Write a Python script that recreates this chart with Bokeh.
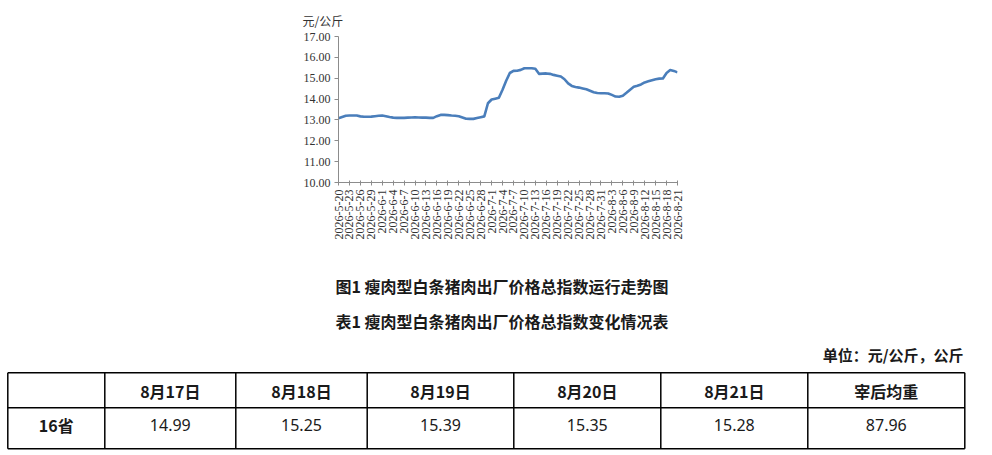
import math
import pandas as pd
from bokeh.plotting import figure
from bokeh.layouts import column
from bokeh.models import Range1d, FixedTicker, ColumnDataSource
from bokeh.core.properties import value
from bokeh.embed import file_html
from bokeh.resources import INLINE

# ---------------- data ----------------
dates = [f"{d.year}-{d.month}-{d.day}" for d in pd.date_range("2026-05-20", "2026-08-21", freq="D")]
price_index = [
    13.08, 13.14, 13.20, 13.21, 13.21, 13.21, 13.17, 13.15, 13.15, 13.16,
    13.18, 13.20, 13.21, 13.18, 13.14, 13.11, 13.10, 13.10, 13.10, 13.11,
    13.12, 13.13, 13.12, 13.11, 13.11, 13.10, 13.10, 13.18, 13.24, 13.24,
    13.23, 13.21, 13.20, 13.18, 13.12, 13.06, 13.05, 13.05, 13.09, 13.13,
    13.17, 13.80, 13.98, 14.02, 14.06, 14.45, 14.88, 15.25, 15.35, 15.36,
    15.40, 15.48, 15.48, 15.48, 15.45, 15.21, 15.22, 15.23, 15.21, 15.16,
    15.12, 15.08, 14.95, 14.75, 14.63, 14.58, 14.55, 14.51, 14.47, 14.40,
    14.33, 14.29, 14.28, 14.28, 14.27, 14.20, 14.12, 14.11, 14.16, 14.30,
    14.45, 14.59, 14.64, 14.70, 14.80, 14.85, 14.90, 14.95, 14.98, 14.99,
    15.25, 15.39, 15.35, 15.28,
]
y_ticks = [10, 11, 12, 13, 14, 15, 16, 17]
y_unit = "元/公斤"
chart_title = "图1 瘦肉型白条猪肉出厂价格总指数运行走势图"
table_title = "表1 瘦肉型白条猪肉出厂价格总指数变化情况表"
unit_note = "单位：元/公斤，公斤"
table_headers = ["", "8月17日", "8月18日", "8月19日", "8月20日", "8月21日", "宰后均重"]
row_label = "16省"
row_values = ["14.99", "15.25", "15.39", "15.35", "15.28", "87.96"]

# ---------------- layout constants ----------------
W = 976
H1 = 262
H2 = 190
CJK = "Noto Sans CJK SC"
SERIF = "Liberation Serif"
FL, FW, FT, FH = 338, 339, 36, 146  # chart frame left / width / top / height

# ---------------- chart ----------------
x_idx = list(range(len(dates)))
p = figure(width=W, height=H1, output_backend="svg", toolbar_location=None,
           x_range=Range1d(0, len(dates) - 1), y_range=Range1d(10, 17),
           min_border_left=FL, min_border_right=W - FL - FW,
           min_border_top=FT, min_border_bottom=H1 - FT - FH)
p.frame_align = False
p.outline_line_color = None
p.grid.grid_line_color = None
p.background_fill_color = "white"
p.border_fill_color = "white"

p.title.text = y_unit
p.title.align = "left"
p.title.offset = -36
p.title.text_font = CJK
p.title.text_font_size = "12px"
p.title.text_font_style = "normal"
p.title.text_color = "#333333"
p.title.standoff = 15

p.line(x_idx, price_index, line_color="#4a7ebb", line_width=2.6, line_join="round")

xa = p.xaxis[0]
xa.ticker = FixedTicker(ticks=x_idx[::3])
xa.major_label_overrides = {i: dates[i] for i in x_idx[::3]}
xa.major_label_orientation = math.pi / 2
xa.major_label_text_font = SERIF
xa.major_label_text_font_size = "12px"
xa.major_label_text_color = "#333333"
xa.axis_line_color = "#8c8c8c"
xa.major_tick_line_color = "#8c8c8c"
xa.major_tick_in = 2
xa.major_tick_out = 3
xa.minor_tick_line_color = None
xa.major_label_standoff = 4

ya = p.yaxis[0]
ya.ticker = FixedTicker(ticks=y_ticks)
ya.major_label_overrides = {t: f"{t:.2f}" for t in y_ticks}
ya.major_label_text_font = SERIF
ya.major_label_text_font_size = "12px"
ya.major_label_text_color = "#333333"
ya.axis_line_color = "#8c8c8c"
ya.major_tick_line_color = "#8c8c8c"
ya.major_tick_in = 0
ya.major_tick_out = 4
ya.minor_tick_line_color = None
ya.major_label_standoff = 4

# ---------------- titles and table ----------------
q = figure(width=W, height=H2, output_backend="svg", toolbar_location=None,
           x_range=Range1d(0, W), y_range=Range1d(H2, 0),
           min_border=0, min_border_left=0, min_border_right=0,
           min_border_top=0, min_border_bottom=0)
q.frame_align = False
q.axis.visible = False
q.grid.grid_line_color = None
q.outline_line_color = None
q.background_fill_color = "white"
q.border_fill_color = "white"

off_x, off_y = 0, H1

q.text(x=[501.5 - off_x, 501.5 - off_x], y=[285 - off_y, 320 - off_y], text=[chart_title, table_title],
       text_font=value(CJK), text_font_size="16px", text_font_style="bold",
       text_color="#1a1a1a", text_align="center", text_baseline="middle")
q.text(x=[963 - off_x], y=[353.5 - off_y], text=[unit_note],
       text_font=value(CJK), text_font_size="15px", text_font_style="bold",
       text_color="#1a1a1a", text_align="right", text_baseline="middle")

col_edges = [7.3, 104.3, 235.3, 366.7, 513.3, 660.3, 807.3, 964.3]
row_edges = [372.3, 407.3, 448.3]
cx = [(a + b) / 2 - off_x for a, b in zip(col_edges[:-1], col_edges[1:])]
r_top, r_mid, r_bot = [r - off_y for r in row_edges]

# borders
q.segment(x0=[col_edges[0] - off_x] * 3, x1=[col_edges[-1] - off_x] * 3,
          y0=[r_top, r_mid, r_bot], y1=[r_top, r_mid, r_bot],
          line_color="black", line_width=1.5)
q.segment(x0=[c - off_x for c in col_edges], x1=[c - off_x for c in col_edges],
          y0=[r_top] * len(col_edges), y1=[r_bot] * len(col_edges),
          line_color="black", line_width=1.5)

hdr = ColumnDataSource(dict(x=cx[1:], y=[390 - off_y] * 6, t=table_headers[1:]))
q.text(x="x", y="y", text="t", source=hdr, text_font=value(CJK), text_font_size="16px",
       text_font_style="bold", text_color="#1a1a1a", text_align="center", text_baseline="middle")
q.text(x=[cx[0]], y=[424 - off_y], text=[row_label], text_font=value(CJK), text_font_size="16px",
       text_font_style="bold", text_color="#1a1a1a", text_align="center", text_baseline="middle")
vals = ColumnDataSource(dict(x=cx[1:], y=[424 - off_y] * 6, t=row_values))
q.text(x="x", y="y", text="t", source=vals, text_font=value("Noto Sans"), text_font_size="16px",
       text_color="#1a1a1a", text_align="center", text_baseline="middle")

page = column(p, q, spacing=0)
open("out.html", "w").write(file_html(page, INLINE))
